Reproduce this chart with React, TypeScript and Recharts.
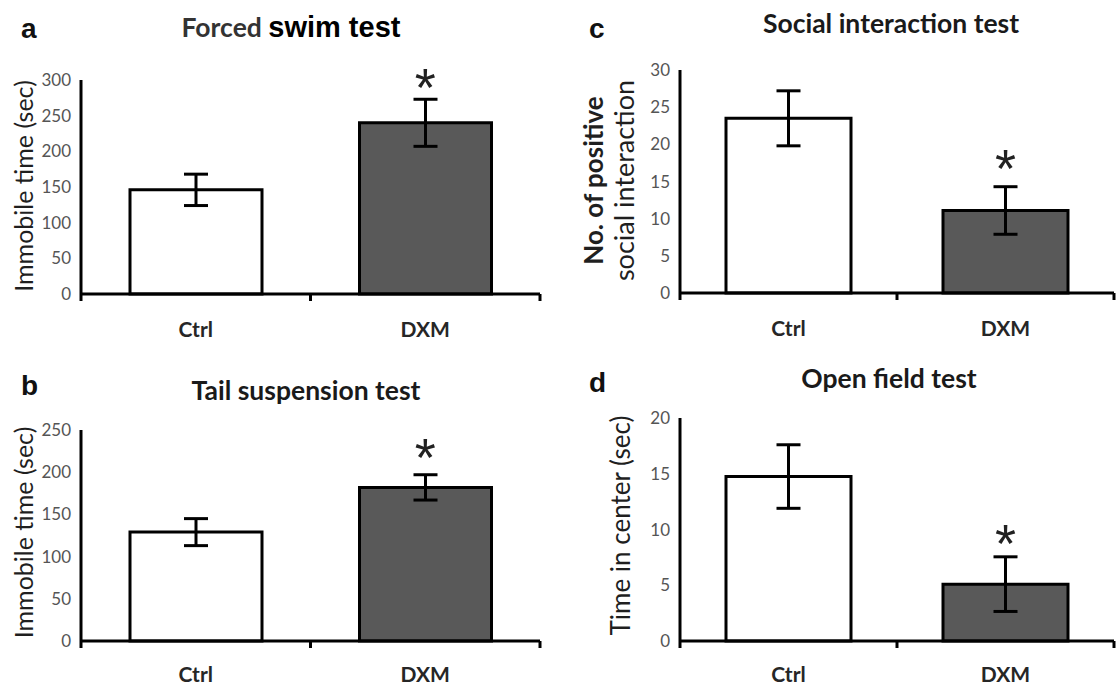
import React from 'react';
import { BarChart, Bar, XAxis, YAxis, ErrorBar, Cell, ReferenceDot } from 'recharts';

const categories = ['Ctrl', 'DXM'];
const barColors = ['#ffffff', '#595959'];

const swimMeans = [146, 240];
const swimErrors = [22, 33];
const swimTicks = [0, 50, 100, 150, 200, 250, 300];
const swimStar = 307;

const tailMeans = [129, 182];
const tailErrors = [16, 15];
const tailTicks = [0, 50, 100, 150, 200, 250];
const tailStar = 232;

const socialMeans = [23.5, 11.1];
const socialErrors = [3.7, 3.2];
const socialTicks = [0, 5, 10, 15, 20, 25, 30];
const socialStar = 18.4;

const openMeans = [14.75, 5.1];
const openErrors = [2.85, 2.45];
const openTicks = [0, 5, 10, 15, 20];
const openStar = 9.9;

const CAL = 'Lato, "Open Sans", sans-serif';
const ARIAL = '"Liberation Sans", Arial, sans-serif';

const build = (means: number[], errs: number[]) =>
  categories.map((c, i) => ({ name: c, value: means[i], err: errs[i] }));

type PanelProps = {
  left: number;
  top: number;
  width: number;
  height: number;
  margin: { top: number; right: number; bottom: number; left: number };
  yAxisWidth: number;
  xAxisHeight: number;
  means: number[];
  errs: number[];
  ticks: number[];
  star: number;
  barSize: number;
  yLabel: { text: string; dx: number; weight?: number; size: number }[];
  labelDy: number;
  xLabelDy: number;
};

const Panel = (p: PanelProps) => {
  const data = build(p.means, p.errs);
  const max = p.ticks[p.ticks.length - 1];
  const plotW = p.width - p.margin.left - p.margin.right - p.yAxisWidth;
  const fallbackHalf = plotW / categories.length / 2;

  const XTick = (props: any) => {
    const { x, y, payload } = props;
    const half = typeof payload?.offset === 'number' && payload.offset > 0 ? payload.offset : fallbackHalf;
    return (
      <g>
        {payload.index === 0 && (
          <line x1={x - half} x2={x - half} y1={y} y2={y + 7} stroke="#000" strokeWidth={3} />
        )}
        <line x1={x + half} x2={x + half} y1={y} y2={y + 7} stroke="#000" strokeWidth={3} />
        <text
          x={x}
          y={y + p.xLabelDy}
          textAnchor="middle"
          dominantBaseline="central"
          fontFamily={CAL}
          fontSize={21}
          fontWeight={700}
          fill="#262626"
        >
          {payload.value}
        </text>
      </g>
    );
  };

  const YLabel = (props: any) => {
    const vb = props.viewBox || {};
    const cy = vb.y + vb.height / 2 + p.labelDy;
    return (
      <g>
        {p.yLabel.map((l, i) => {
          const cx = p.margin.left + l.dx;
          return (
            <text
              key={i}
              x={cx}
              y={cy}
              transform={`rotate(-90, ${cx}, ${cy})`}
              textAnchor="middle"
              dominantBaseline="central"
              fontFamily={CAL}
              fontSize={l.size}
              fontWeight={l.weight ?? 400}
              fill="#1f1f1f"
            >
              {l.text}
            </text>
          );
        })}
      </g>
    );
  };

  return (
    <div style={{ position: 'absolute', left: p.left, top: p.top }}>
      <BarChart width={p.width} height={p.height} data={data} margin={p.margin}>
        <XAxis
          dataKey="name"
          height={p.xAxisHeight}
          axisLine={{ stroke: '#000', strokeWidth: 3 }}
          tickLine={false}
          tickSize={0}
          tickMargin={0}
          tick={<XTick />}
          interval={0}
        />
        <YAxis
          width={p.yAxisWidth}
          domain={[0, max]}
          ticks={p.ticks}
          interval={0}
          axisLine={{ stroke: '#000', strokeWidth: 3 }}
          tickLine={false}
          tickSize={0}
          tickMargin={10}
          tick={{ fill: '#555', fontSize: 17, fontFamily: CAL }}
          label={<YLabel />}
        />
        <Bar dataKey="value" barSize={p.barSize} stroke="#000" strokeWidth={3} isAnimationActive={false}>
          {data.map((d, i) => (
            <Cell key={d.name} fill={barColors[i]} />
          ))}
          <ErrorBar dataKey="err" width={12} strokeWidth={3} stroke="#000" direction="y" />
        </Bar>
        <ReferenceDot
          x={categories[1]}
          y={p.star}
          r={0}
          ifOverflow="visible"
          shape={(s: any) => (
            <text
              x={s.cx}
              y={s.cy + 31}
              textAnchor="middle"
              fontFamily={ARIAL}
              fontSize={54}
              fill="#222"
            >
              *
            </text>
          )}
        />
      </BarChart>
    </div>
  );
};

const Letter = ({ ch, x, y }: { ch: string; x: number; y: number }) => (
  <div
    style={{
      position: 'absolute',
      left: x,
      top: y - 16,
      lineHeight: '32px',
      fontFamily: ARIAL,
      fontWeight: 700,
      fontSize: 28,
      color: '#111',
    }}
  >
    {ch}
  </div>
);

const Title = ({ cx, cy, children }: { cx: number; cy: number; children: React.ReactNode }) => (
  <div
    style={{
      position: 'absolute',
      left: cx - 250,
      width: 500,
      top: cy - 17,
      lineHeight: '34px',
      textAlign: 'center',
      fontFamily: CAL,
      fontWeight: 700,
      fontSize: 26.5,
      color: '#1a1a1a',
      whiteSpace: 'nowrap',
    }}
  >
    {children}
  </div>
);

export default function App() {
  return (
    <div
      style={{
        position: 'absolute',
        left: 0,
        top: 0,
        width: 1119,
        height: 688,
        background: '#fff',
        overflow: 'hidden',
      }}
    >
      <Letter ch="a" x={21} y={29} />
      <Letter ch="c" x={589} y={29} />
      <Letter ch="b" x={21} y={386} />
      <Letter ch="d" x={589} y={383} />

      <Title cx={291} cy={27}>
        <span style={{ color: '#333' }}>Forced </span>
        <span style={{ fontFamily: ARIAL, fontSize: 29, color: '#000' }}>swim test</span>
      </Title>
      <Title cx={891} cy={23}>Social interaction test</Title>
      <Title cx={306} cy={390}>Tail suspension test</Title>
      <Title cx={889} cy={378}>Open field test</Title>

      <Panel
        left={0}
        top={0}
        width={560}
        height={344}
        margin={{ top: 80, right: 20, bottom: 0, left: 0 }}
        yAxisWidth={81}
        xAxisHeight={50}
        means={swimMeans}
        errs={swimErrors}
        ticks={swimTicks}
        star={swimStar}
        barSize={132}
        yLabel={[{ text: 'Immobile time (sec)', dx: 23, size: 25 }]}
        labelDy={-1}
        xLabelDy={34}
      />
      <Panel
        left={560}
        top={0}
        width={559}
        height={344}
        margin={{ top: 70, right: 5, bottom: 0, left: 0 }}
        yAxisWidth={120}
        xAxisHeight={51}
        means={socialMeans}
        errs={socialErrors}
        ticks={socialTicks}
        star={socialStar}
        barSize={125}
        yLabel={[
          { text: 'No. of positive', dx: 33, weight: 700, size: 26 },
          { text: 'social interaction', dx: 63, size: 27 },
        ]}
        labelDy={-1}
        xLabelDy={34}
      />
      <Panel
        left={0}
        top={344}
        width={560}
        height={344}
        margin={{ top: 86, right: 20, bottom: 0, left: 0 }}
        yAxisWidth={81}
        xAxisHeight={47}
        means={tailMeans}
        errs={tailErrors}
        ticks={tailTicks}
        star={tailStar}
        barSize={132}
        yLabel={[{ text: 'Immobile time (sec)', dx: 23, size: 25 }]}
        labelDy={-3}
        xLabelDy={32}
      />
      <Panel
        left={560}
        top={344}
        width={559}
        height={344}
        margin={{ top: 74, right: 5, bottom: 0, left: 0 }}
        yAxisWidth={120}
        xAxisHeight={47}
        means={openMeans}
        errs={openErrors}
        ticks={openTicks}
        star={openStar}
        barSize={125}
        yLabel={[{ text: 'Time in center (sec)', dx: 60, size: 26 }]}
        labelDy={-4}
        xLabelDy={32}
      />
    </div>
  );
}
